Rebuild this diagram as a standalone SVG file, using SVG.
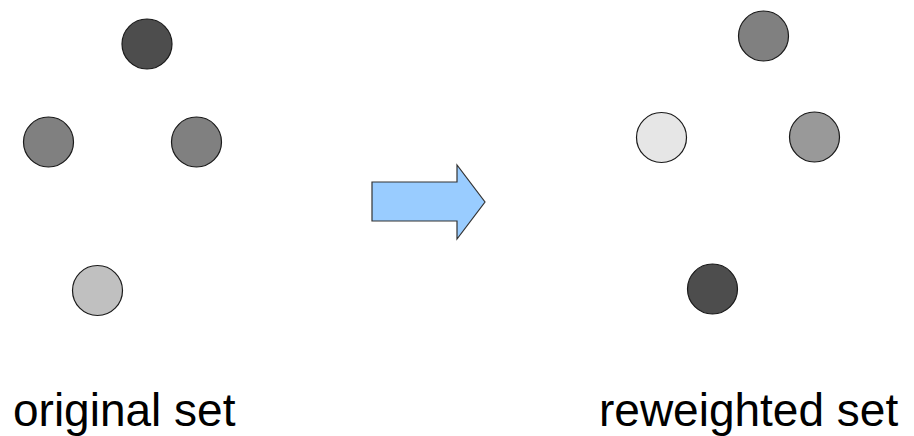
<svg xmlns="http://www.w3.org/2000/svg" width="914" height="436" viewBox="0 0 914 436">
  <style>
    .dot { stroke: #1a1a1a; stroke-width: 1.2; }
    .label { font-family: "Liberation Sans", Arial, sans-serif; font-size: 46px; fill: #000; }
  </style>
  <rect width="914" height="436" fill="#ffffff"/>

  <!-- left point set -->
  <g id="orig-top"><circle class="dot" cx="147" cy="44" r="25" fill="#4d4d4d"/></g>
  <g id="orig-left"><circle class="dot" cx="48.5" cy="142" r="25" fill="#808080"/></g>
  <g id="orig-right"><circle class="dot" cx="196.5" cy="142" r="25" fill="#808080"/></g>
  <g id="orig-bottom"><circle class="dot" cx="97.5" cy="290.5" r="25" fill="#c0c0c0"/></g>

  <!-- transition arrow -->
  <g id="arrow">
    <polygon points="372,182 457,182 457,165 485,202 457,239 457,221 372,221" fill="#99ccff" stroke="#333333" stroke-width="1.2" stroke-linejoin="miter"/>
  </g>

  <!-- right point set -->
  <g id="rew-top"><circle class="dot" cx="763.5" cy="36" r="25" fill="#808080"/></g>
  <g id="rew-left"><circle class="dot" cx="661.5" cy="137.5" r="25" fill="#e6e6e6"/></g>
  <g id="rew-right"><circle class="dot" cx="814.5" cy="137" r="25" fill="#999999"/></g>
  <g id="rew-bottom"><circle class="dot" cx="712.5" cy="289" r="25" fill="#4d4d4d"/></g>

  <!-- captions -->
  <text class="label" x="13" y="426">original set</text>
  <text class="label" x="599" y="426">reweighted set</text>
</svg>
